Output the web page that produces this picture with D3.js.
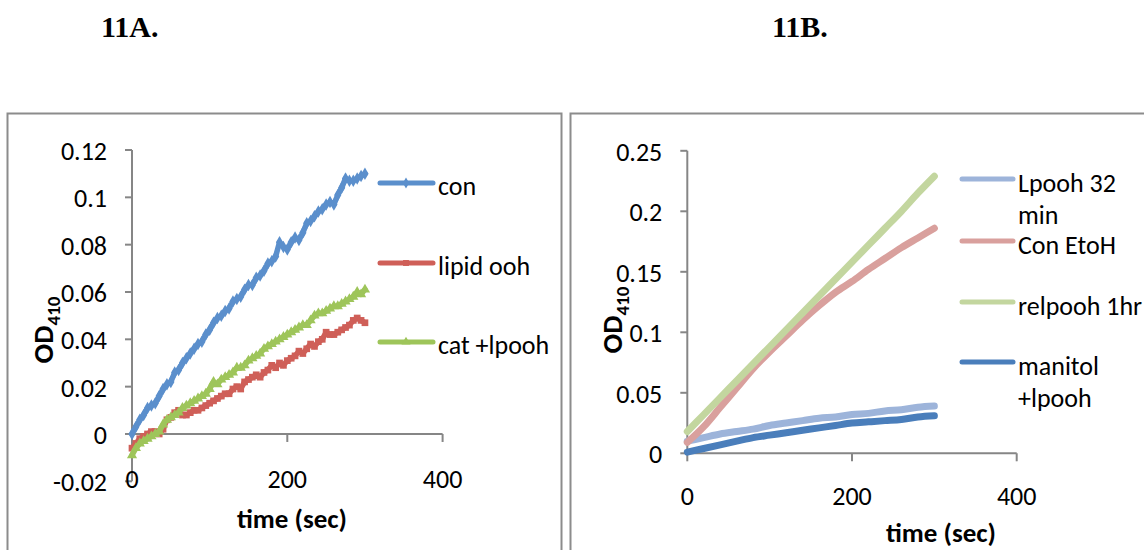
<!DOCTYPE html>
<html>
<head>
<meta charset="utf-8">
<script src="https://cdn.jsdelivr.net/npm/d3@7"></script>
<style>
  body { margin: 0; background: #fff; }
  svg { display: block; font-family: Carlito, Calibri, Lato, sans-serif; }
</style>
</head>
<body>
<svg id="chart" width="1144" height="550"></svg>
<script>
// ---- panel 11A : time every 5 sec ----
var timesA = d3.range(0, 301, 5);
var conA = [0.000, 0.003, 0.006, 0.008, 0.011, 0.012, 0.013, 0.016, 0.019, 0.021,
  0.022, 0.026, 0.027, 0.030, 0.032, 0.034, 0.036, 0.038, 0.039, 0.042,
  0.044, 0.047, 0.049, 0.050, 0.052, 0.053, 0.056, 0.057, 0.058, 0.061,
  0.063, 0.063, 0.066, 0.067, 0.069, 0.072, 0.073, 0.075, 0.081, 0.079,
  0.078, 0.081, 0.083, 0.082, 0.085, 0.089, 0.090, 0.092, 0.094, 0.095,
  0.097, 0.098, 0.097, 0.101, 0.104, 0.108, 0.107, 0.107, 0.108, 0.109, 0.110];
var lipidA = [-0.006, -0.004, -0.002, -0.001, 0.000, 0.001, 0.001, 0.000, 0.002, 0.006,
  0.007, 0.009, 0.010, 0.008, 0.008, 0.009, 0.010, 0.010, 0.011, 0.012,
  0.013, 0.014, 0.015, 0.016, 0.017, 0.017, 0.019, 0.020, 0.019, 0.022,
  0.023, 0.024, 0.025, 0.024, 0.026, 0.027, 0.029, 0.028, 0.030, 0.029,
  0.031, 0.032, 0.033, 0.035, 0.034, 0.036, 0.038, 0.037, 0.039, 0.040,
  0.043, 0.042, 0.042, 0.043, 0.044, 0.045, 0.046, 0.048, 0.049, 0.048, 0.047];
var catA = [-0.009, -0.006, -0.004, -0.003, -0.002, -0.001, 0.000, 0.001, 0.004, 0.006,
  0.007, 0.008, 0.009, 0.011, 0.012, 0.013, 0.014, 0.015, 0.016, 0.017,
  0.019, 0.022, 0.021, 0.023, 0.024, 0.025, 0.026, 0.028, 0.028, 0.029,
  0.031, 0.032, 0.033, 0.034, 0.036, 0.037, 0.038, 0.039, 0.040, 0.041,
  0.042, 0.043, 0.044, 0.045, 0.046, 0.046, 0.048, 0.050, 0.051, 0.051,
  0.052, 0.053, 0.054, 0.054, 0.055, 0.056, 0.057, 0.058, 0.060, 0.059, 0.061];
var seriesNamesA = ["con", "lipid ooh", "cat +lpooh"];
var yTicksA = [-0.02, 0, 0.02, 0.04, 0.06, 0.08, 0.1, 0.12];

// ---- panel 11B : time every 20 sec ----
var timesB = d3.range(0, 301, 20);
var lpoohB   = [0.010, 0.013, 0.016, 0.018, 0.020, 0.023, 0.025, 0.027, 0.029, 0.030, 0.032, 0.033, 0.035, 0.036, 0.038, 0.039];
var conEtohB = [0.009, 0.022, 0.038, 0.054, 0.070, 0.084, 0.097, 0.110, 0.122, 0.133, 0.142, 0.152, 0.161, 0.170, 0.178, 0.186];
var relpoohB = [0.018, 0.032, 0.046, 0.060, 0.074, 0.088, 0.102, 0.116, 0.130, 0.144, 0.158, 0.172, 0.186, 0.200, 0.215, 0.229];
var manitolB = [0.001, 0.004, 0.007, 0.010, 0.013, 0.015, 0.017, 0.019, 0.021, 0.023, 0.025, 0.026, 0.027, 0.028, 0.030, 0.031];
var seriesNamesB = [["Lpooh 32", "min"], ["Con EtoH"], ["relpooh 1hr"], ["manitol", "+lpooh"]];
var yTicksB = [0, 0.05, 0.1, 0.15, 0.2, 0.25];
var xTicks = [0, 200, 400];

var svg = d3.select("#chart");
var axisColor = "#868686";

// panel frames
svg.append("rect").attr("x", 7.5).attr("y", 113.5).attr("width", 554).attr("height", 460)
  .attr("fill", "none").attr("stroke", "#8c8c8c").attr("stroke-width", 2);
svg.append("rect").attr("x", 570.5).attr("y", 113.5).attr("width", 600).attr("height", 460)
  .attr("fill", "none").attr("stroke", "#8c8c8c").attr("stroke-width", 2);

// panel titles
svg.append("text").attr("x", 101).attr("y", 37).text("11A.")
  .style("font-family", "'Liberation Serif', 'Times New Roman', serif")
  .style("font-weight", "bold").style("font-size", "30px");
svg.append("text").attr("x", 772).attr("y", 37).text("11B.")
  .style("font-family", "'Liberation Serif', 'Times New Roman', serif")
  .style("font-weight", "bold").style("font-size", "30px");

function drawAxes(x, y, yTicks, yFmt, xLabelY, xTitle, yTitle) {
  var g = svg.append("g");
  var x0 = x.range()[0];
  // y axis line and ticks
  g.append("line").attr("x1", x0).attr("x2", x0)
    .attr("y1", y.range()[0]).attr("y2", y.range()[1])
    .attr("stroke", axisColor).attr("stroke-width", 2);
  yTicks.forEach(function(t) {
    g.append("line").attr("x1", x0 - 7).attr("x2", x0).attr("y1", y(t)).attr("y2", y(t))
      .attr("stroke", axisColor).attr("stroke-width", 2);
    g.append("text").attr("x", x0 - 25).attr("y", y(t)).attr("dy", "0.38em")
      .attr("text-anchor", "end").style("font-size", "26px").text(yFmt(t));
  });
  // x axis at y=0
  var yz = y(0);
  g.append("line").attr("x1", x0).attr("x2", x.range()[1]).attr("y1", yz).attr("y2", yz)
    .attr("stroke", axisColor).attr("stroke-width", 2);
  xTicks.forEach(function(t) {
    g.append("line").attr("x1", x(t)).attr("x2", x(t)).attr("y1", yz).attr("y2", yz + 8)
      .attr("stroke", axisColor).attr("stroke-width", 2);
    g.append("text").attr("x", x(t)).attr("y", xLabelY)
      .attr("text-anchor", "middle").style("font-size", "26px").text(t);
  });
  g.append("text").attr("x", xTitle[0]).attr("y", xTitle[1]).attr("text-anchor", "middle")
    .style("font-size", "27px").style("font-weight", "bold").text("time (sec)");
  var yt = g.append("text")
    .attr("transform", "translate(" + yTitle[0] + "," + yTitle[1] + ") rotate(-90)")
    .attr("text-anchor", "middle").style("font-size", "29px").style("font-weight", "bold");
  yt.append("tspan").text("OD");
  yt.append("tspan").attr("dy", 7).style("font-size", "19px").text("410");
}

// ---------- 11A ----------
var xA = d3.scaleLinear().domain([0, 400]).range([132, 442.6]);
var yA = d3.scaleLinear().domain([-0.02, 0.12]).range([481.3, 150]);
drawAxes(xA, yA, yTicksA, function(t) { return t === 0 ? "0" : String(+t.toFixed(2)); },
  488, [292, 528], [53, 330]);

var seriesA = [
  { name: seriesNamesA[0], values: conA, color: "#5B8FCC", symbol: d3.symbolDiamond },
  { name: seriesNamesA[1], values: lipidA, color: "#CF5F58", symbol: d3.symbolSquare },
  { name: seriesNamesA[2], values: catA, color: "#9EC55A", symbol: d3.symbolTriangle }
];
var lineA = d3.line().x(function(d) { return xA(d[0]); }).y(function(d) { return yA(d[1]); });

seriesA.forEach(function(s) {
  var pts = timesA.map(function(t, i) { return [t, s.values[i]]; });
  var g = svg.append("g");
  g.append("path").datum(pts).attr("d", lineA).attr("fill", "none")
    .attr("stroke", s.color).attr("stroke-width", 5.5).attr("stroke-linejoin", "round")
    .attr("stroke-linecap", "round");
  g.selectAll("path.m").data(pts).enter().append("path").attr("class", "m")
    .attr("transform", function(d) { return "translate(" + xA(d[0]) + "," + yA(d[1]) + ")"; })
    .attr("d", d3.symbol().type(s.symbol).size(45)).attr("fill", s.color);
});

// legend 11A
var legA = [183, 263, 342];
seriesA.forEach(function(s, i) {
  svg.append("line").attr("x1", 380).attr("x2", 433).attr("y1", legA[i]).attr("y2", legA[i])
    .attr("stroke", s.color).attr("stroke-width", 5).attr("stroke-linecap", "round");
  svg.append("path").attr("transform", "translate(406," + legA[i] + ")")
    .attr("d", d3.symbol().type(s.symbol).size(35)).attr("fill", s.color);
  svg.append("text").attr("x", 438).attr("y", legA[i] + 12).style("font-size", "26px").text(s.name);
});

// ---------- 11B ----------
var xB = d3.scaleLinear().domain([0, 400]).range([687.3, 1016.7]);
var yB = d3.scaleLinear().domain([0, 0.25]).range([453.3, 150.8]);
drawAxes(xB, yB, yTicksB, function(t) { return t === 0 ? "0" : String(+t.toFixed(2)); },
  505, [941, 542], [622, 320]);

var seriesB = [
  { name: seriesNamesB[0], values: lpoohB, color: "#9DB4DA" },
  { name: seriesNamesB[1], values: conEtohB, color: "#D9A09D" },
  { name: seriesNamesB[2], values: relpoohB, color: "#C3D69F" },
  { name: seriesNamesB[3], values: manitolB, color: "#4A7EBB" }
];
var lineB = d3.line().curve(d3.curveMonotoneX)
  .x(function(d) { return xB(d[0]); }).y(function(d) { return yB(d[1]); });

seriesB.forEach(function(s) {
  var pts = timesB.map(function(t, i) { return [t, s.values[i]]; });
  svg.append("path").datum(pts).attr("d", lineB).attr("fill", "none")
    .attr("stroke", s.color).attr("stroke-width", 7)
    .attr("stroke-linecap", "round").attr("stroke-linejoin", "round");
});

// legend 11B
var legB = [179, 241, 302, 362];
seriesB.forEach(function(s, i) {
  svg.append("line").attr("x1", 962).attr("x2", 1013).attr("y1", legB[i]).attr("y2", legB[i])
    .attr("stroke", s.color).attr("stroke-width", 5).attr("stroke-linecap", "round");
  s.name.forEach(function(txt, j) {
    svg.append("text").attr("x", 1018).attr("y", legB[i] + 13 + j * 32)
      .style("font-size", "26px").text(txt);
  });
});
</script>
</body>
</html>
